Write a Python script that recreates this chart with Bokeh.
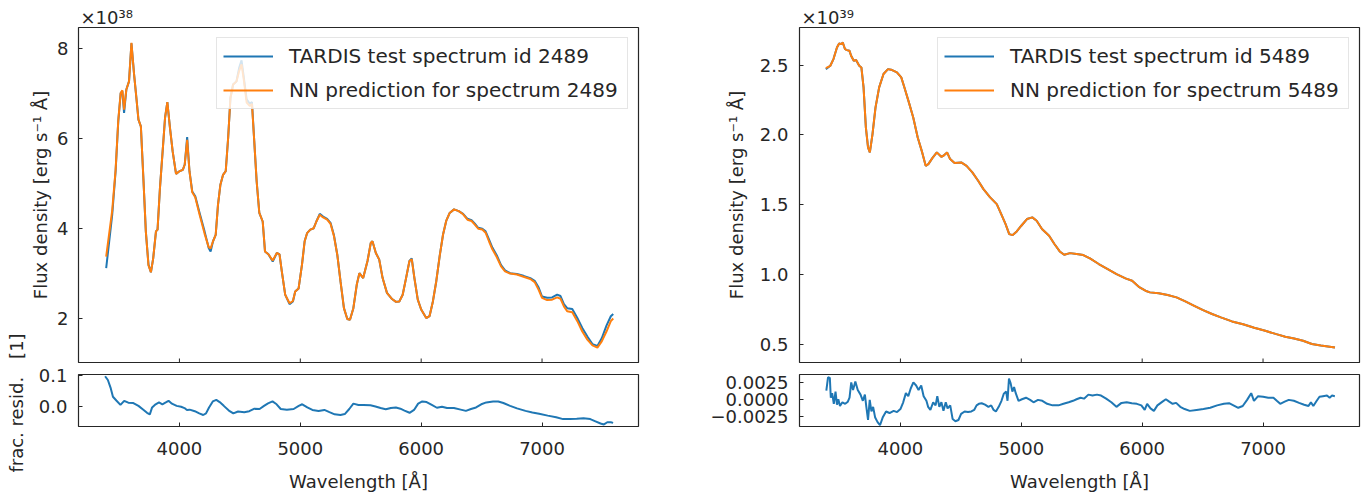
import math
from bokeh.plotting import figure
from bokeh.models import Range1d, FixedTicker, Label, Legend, LegendItem
from bokeh.layouts import row, column
from bokeh.embed import file_html
from bokeh.resources import INLINE

# ---------------- data (flux in units of the axis multiplier) ----------------
lam_L = [3394, 3444, 3472, 3494, 3514, 3528, 3542, 3561, 3583, 3603, 3625, 3644, 3661, 3681,
         3703, 3722, 3744, 3764, 3783, 3806, 3819, 3839, 3861, 3881, 3900, 3922, 3944, 3972,
         4000, 4028, 4044, 4064, 4083, 4106, 4131, 4167, 4208, 4242, 4258, 4278, 4300, 4319,
         4339, 4361, 4383, 4403, 4422, 4444, 4472, 4494, 4514, 4533, 4556, 4583, 4600, 4619,
         4639, 4661, 4689, 4708, 4736, 4772, 4806, 4828, 4847, 4875, 4911, 4939, 4958, 4986,
         5014, 5036, 5056, 5083, 5111, 5133, 5161, 5189, 5222, 5250, 5278, 5306, 5333, 5361,
         5389, 5411, 5439, 5467, 5489, 5520, 5556, 5583, 5597, 5625, 5653, 5681, 5717, 5756,
         5792, 5819, 5847, 5875, 5903, 5922, 5944, 5972, 6000, 6042, 6069, 6097, 6125, 6153,
         6181, 6208, 6236, 6272, 6311, 6347, 6383, 6417, 6444, 6472, 6506, 6533, 6561, 6589,
         6625, 6661, 6694, 6736, 6792, 6847, 6903, 6939, 6972, 7000, 7042, 7083, 7125, 7153,
         7181, 7208, 7250, 7292, 7333, 7375, 7417, 7458, 7494, 7533, 7569, 7589]
true_L = [3.11, 4.30, 5.27, 6.38, 7.01, 7.05, 6.57, 7.09, 7.27, 8.12, 7.42, 6.90, 6.42, 6.27,
          5.04, 3.93, 3.19, 3.02, 3.33, 3.93, 3.97, 4.90, 5.71, 6.46, 6.81, 6.23, 5.71, 5.21,
          5.27, 5.30, 5.42, 6.03, 5.27, 4.82, 4.71, 4.34, 3.93, 3.56, 3.48, 3.71, 3.85, 4.52,
          4.97, 5.19, 5.27, 6.01, 6.90, 7.20, 7.27, 7.57, 7.74, 7.35, 6.87, 6.77, 6.81, 5.94,
          5.04, 4.34, 4.15, 3.48, 3.42, 3.26, 3.45, 3.42, 3.04, 2.52, 2.31, 2.37, 2.59, 2.66,
          3.19, 3.71, 3.89, 3.97, 4.00, 4.15, 4.32, 4.26, 4.21, 4.12, 3.85, 3.41, 2.81, 2.22,
          1.98, 1.96, 2.22, 2.74, 3.00, 2.89, 3.27, 3.67, 3.71, 3.45, 3.30, 2.89, 2.56, 2.43,
          2.36, 2.37, 2.52, 2.89, 3.27, 3.33, 2.89, 2.41, 2.19, 2.00, 2.04, 2.37, 2.82, 3.38,
          3.86, 4.17, 4.34, 4.42, 4.38, 4.32, 4.21, 4.18, 4.10, 4.01, 3.99, 3.93, 3.75, 3.57,
          3.40, 3.18, 3.06, 3.00, 2.98, 2.94, 2.89, 2.83, 2.68, 2.48, 2.45, 2.46, 2.52, 2.49,
          2.31, 2.22, 2.20, 2.00, 1.78, 1.59, 1.42, 1.38, 1.55, 1.83, 2.04, 2.09]
pred_L = [3.37, 4.40, 5.30, 6.40, 7.01, 7.07, 6.64, 7.09, 7.27, 8.13, 7.42, 6.90, 6.42, 6.27,
          5.04, 3.93, 3.17, 3.02, 3.33, 3.93, 3.97, 4.90, 5.71, 6.46, 6.81, 6.23, 5.71, 5.21,
          5.27, 5.30, 5.42, 5.97, 5.27, 4.80, 4.69, 4.30, 3.88, 3.58, 3.55, 3.71, 3.85, 4.52,
          4.97, 5.19, 5.27, 6.01, 6.90, 7.20, 7.27, 7.50, 7.65, 7.30, 6.80, 6.72, 6.77, 5.94,
          5.04, 4.34, 4.15, 3.48, 3.42, 3.28, 3.45, 3.42, 3.04, 2.52, 2.33, 2.38, 2.59, 2.66,
          3.19, 3.71, 3.89, 3.97, 4.00, 4.15, 4.30, 4.24, 4.19, 4.10, 3.83, 3.41, 2.81, 2.22,
          1.98, 1.96, 2.22, 2.74, 3.00, 2.89, 3.27, 3.67, 3.71, 3.45, 3.30, 2.89, 2.56, 2.43,
          2.36, 2.37, 2.52, 2.89, 3.27, 3.31, 2.89, 2.41, 2.19, 2.00, 2.04, 2.37, 2.82, 3.38,
          3.86, 4.17, 4.34, 4.42, 4.38, 4.31, 4.19, 4.16, 4.08, 3.99, 3.97, 3.90, 3.71, 3.53,
          3.36, 3.15, 3.04, 2.99, 2.97, 2.92, 2.87, 2.80, 2.63, 2.45, 2.40, 2.41, 2.46, 2.43,
          2.26, 2.15, 2.13, 1.93, 1.70, 1.52, 1.39, 1.34, 1.48, 1.70, 1.93, 1.99]

rlam_L = [3385, 3408, 3430, 3450, 3478, 3512, 3543, 3577, 3619, 3661, 3704, 3732, 3755, 3774,
          3803, 3831, 3859, 3887, 3910, 3938, 3977, 4014, 4042, 4062, 4085, 4127, 4164, 4197,
          4220, 4245, 4276, 4305, 4333, 4367, 4409, 4446, 4485, 4536, 4578, 4621, 4663, 4700,
          4733, 4770, 4804, 4838, 4889, 4945, 4987, 5016, 5058, 5100, 5151, 5199, 5241, 5284,
          5332, 5368, 5405, 5439, 5481, 5523, 5580, 5622, 5664, 5707, 5749, 5791, 5828, 5862,
          5904, 5941, 5975, 6009, 6045, 6088, 6130, 6172, 6214, 6271, 6327, 6370, 6412, 6454,
          6497, 6539, 6595, 6638, 6680, 6736, 6793, 6863, 6920, 6976, 7047, 7117, 7174, 7230,
          7287, 7343, 7399, 7442, 7484, 7512, 7540, 7569, 7588]
resid_L = [0.097, 0.085, 0.061, 0.032, 0.020, 0.006, 0.019, 0.013, 0.012, 0.003, -0.010, -0.019,
           -0.024, -0.002, 0.008, 0.014, 0.008, 0.014, 0.019, 0.010, 0.003, 0.000, -0.004, -0.010,
           -0.009, -0.014, -0.021, -0.026, -0.021, -0.002, 0.017, 0.022, 0.015, 0.003, -0.012,
           -0.021, -0.015, -0.017, -0.014, -0.006, -0.007, 0.003, 0.011, 0.017, 0.008, -0.007,
           -0.009, -0.007, 0.003, 0.008, -0.002, -0.010, -0.013, -0.010, -0.017, -0.024, -0.026,
           -0.023, -0.007, 0.010, 0.006, 0.006, 0.005, 0.001, -0.004, -0.008, -0.004, -0.002,
           -0.006, -0.012, -0.019, -0.010, 0.010, 0.017, 0.015, 0.006, -0.003, 0.000, -0.004,
           -0.004, -0.009, -0.013, -0.007, -0.002, 0.008, 0.014, 0.017, 0.017, 0.012, 0.003,
           -0.005, -0.013, -0.018, -0.022, -0.028, -0.033, -0.039, -0.039, -0.038, -0.036,
           -0.039, -0.046, -0.053, -0.056, -0.049, -0.049, -0.051]

lam_R = [3383, 3420, 3446, 3475, 3493, 3512, 3523, 3541, 3556, 3578, 3592, 3614, 3633, 3659,
         3677, 3695, 3714, 3732, 3747, 3769, 3794, 3824, 3860, 3897, 3923, 3971, 4007, 4033,
         4070, 4106, 4143, 4180, 4209, 4231, 4264, 4301, 4338, 4356, 4386, 4411, 4448, 4503,
         4547, 4595, 4643, 4687, 4742, 4797, 4834, 4870, 4900, 4929, 4962, 5000, 5047, 5091,
         5127, 5171, 5230, 5274, 5318, 5355, 5403, 5458, 5513, 5568, 5641, 5715, 5788, 5862,
         5917, 5972, 6027, 6064, 6137, 6211, 6284, 6357, 6431, 6504, 6578, 6651, 6743, 6835,
         6927, 7018, 7110, 7184, 7257, 7331, 7404, 7478, 7595]
true_R = [2.470, 2.495, 2.543, 2.626, 2.655, 2.650, 2.662, 2.615, 2.607, 2.603, 2.567, 2.531,
          2.536, 2.495, 2.483, 2.340, 2.054, 1.911, 1.875, 2.006, 2.197, 2.340, 2.436, 2.471,
          2.467, 2.448, 2.412, 2.340, 2.233, 2.125, 1.982, 1.875, 1.779, 1.791, 1.834, 1.875,
          1.844, 1.851, 1.875, 1.827, 1.799, 1.803, 1.779, 1.732, 1.672, 1.612, 1.553, 1.505,
          1.433, 1.362, 1.290, 1.283, 1.309, 1.350, 1.398, 1.410, 1.386, 1.326, 1.278, 1.219,
          1.166, 1.142, 1.154, 1.147, 1.140, 1.116, 1.076, 1.040, 1.004, 0.973, 0.956, 0.913,
          0.885, 0.873, 0.866, 0.854, 0.837, 0.808, 0.777, 0.746, 0.718, 0.694, 0.665, 0.645,
          0.620, 0.598, 0.574, 0.555, 0.543, 0.527, 0.503, 0.493, 0.479]
pred_R = [2.478, 2.495, 2.543, 2.626, 2.655, 2.650, 2.662, 2.615, 2.607, 2.603, 2.567, 2.531,
          2.536, 2.495, 2.483, 2.340, 2.054, 1.911, 1.875, 2.006, 2.197, 2.340, 2.436, 2.471,
          2.467, 2.448, 2.412, 2.340, 2.233, 2.125, 1.982, 1.875, 1.779, 1.791, 1.834, 1.875,
          1.844, 1.851, 1.875, 1.827, 1.799, 1.803, 1.779, 1.732, 1.672, 1.612, 1.553, 1.505,
          1.433, 1.362, 1.290, 1.283, 1.309, 1.350, 1.398, 1.410, 1.386, 1.326, 1.278, 1.219,
          1.166, 1.142, 1.154, 1.147, 1.140, 1.116, 1.076, 1.040, 1.004, 0.973, 0.956, 0.913,
          0.885, 0.873, 0.866, 0.854, 0.837, 0.808, 0.777, 0.746, 0.718, 0.694, 0.665, 0.645,
          0.620, 0.598, 0.574, 0.555, 0.543, 0.527, 0.503, 0.493, 0.479]

rlam_R = [3387, 3401, 3416, 3424, 3435, 3449, 3463, 3475, 3486, 3500, 3520, 3543, 3565, 3579,
          3593, 3608, 3627, 3647, 3670, 3689, 3706, 3718, 3732, 3746, 3760, 3774, 3791, 3811,
          3831, 3853, 3881, 3910, 3944, 3972, 4000, 4023, 4045, 4065, 4085, 4107, 4130, 4150,
          4172, 4192, 4215, 4229, 4248, 4271, 4291, 4305, 4322, 4339, 4356, 4375, 4390, 4412,
          4432, 4455, 4480, 4502, 4531, 4559, 4587, 4610, 4630, 4649, 4672, 4700, 4728, 4751,
          4771, 4790, 4813, 4836, 4855, 4875, 4886, 4898, 4912, 4926, 4940, 4954, 4977, 5005,
          5039, 5073, 5101, 5138, 5174, 5214, 5259, 5307, 5349, 5392, 5428, 5457, 5490, 5519,
          5555, 5589, 5626, 5660, 5702, 5745, 5787, 5829, 5872, 5914, 5956, 5993, 6021, 6041,
          6069, 6097, 6126, 6168, 6196, 6224, 6252, 6281, 6315, 6351, 6394, 6450, 6507, 6563,
          6620, 6676, 6719, 6755, 6795, 6832, 6868, 6902, 6925, 6959, 7001, 7043, 7086, 7114,
          7142, 7179, 7213, 7255, 7298, 7340, 7376, 7396, 7416, 7444, 7467, 7495, 7529, 7551,
          7571, 7594]
resid_R = [0.00128, 0.00328, 0.00319, 0.00023, 0.00091, -0.00068, 0.00114, -0.00081, 0.0,
           -0.00100, -0.00045, -0.00068, -0.00036, 0.00023, 0.00251, 0.00137, 0.00264, 0.00137,
           0.00069, -0.00023, 0.00069, -0.00113, -0.00309, -0.00009, -0.00182, -0.00113,
           -0.00273, -0.00341, -0.00387, -0.00273, -0.00182, -0.00205, -0.00173, -0.00191,
           -0.00146, -0.00045, 0.00091, 0.00046, 0.00160, 0.00251, 0.00205, 0.00137, 0.00205,
           0.00046, -0.00023, -0.00113, -0.00159, -0.00045, -0.00091, 0.00046, -0.00113,
           -0.00045, -0.00173, -0.00045, -0.00136, -0.00091, -0.00295, -0.00327, -0.00309,
           -0.00218, -0.00182, -0.00191, -0.00182, -0.00159, -0.00091, -0.00068, -0.00059,
           -0.00081, -0.00113, -0.00091, -0.00159, -0.00182, -0.00113, -0.00023, 0.00082,
           0.00114, -0.00023, 0.00310, 0.00237, 0.00114, 0.00182, 0.00091, -0.00023, 0.0,
           0.00023, -0.00009, -0.00045, -0.00009, -0.00023, -0.00068, -0.00091, -0.00091,
           -0.00068, -0.00045, -0.00023, 0.0, 0.00023, 0.00009, 0.00069, 0.00055, 0.00069,
           0.00055, 0.00009, -0.00045, -0.00113, -0.00054, -0.00045, -0.00059, -0.00068,
           -0.00091, -0.00159, -0.00068, -0.00136, -0.00173, -0.00091, -0.00036, 0.0, -0.00036,
           -0.00068, -0.00054, -0.00113, -0.00146, -0.00173, -0.00159, -0.00146, -0.00127,
           -0.00091, -0.00068, -0.00059, -0.00091, -0.00127, -0.00100, -0.00009, 0.00091,
           -0.00023, 0.00046, 0.00037, 0.00023, 0.00023, -0.00023, -0.00068, -0.00036, -0.00009,
           -0.00023, -0.00054, -0.00081, -0.00100, -0.00045, -0.00100, -0.00023, 0.00037,
           0.00046, 0.00055, 0.00023, 0.00055, 0.00046]

x_ticks = [4000, 5000, 6000, 7000]
yticks_L = [2, 4, 6, 8]
yticks_R = [0.5, 1.0, 1.5, 2.0, 2.5]
rticks_L = [0.0, 0.1]
rticks_R = [-0.0025, 0.0, 0.0025]
rlabels_R = {-0.0025: "\u22120.0025", 0.0: "0.0000", 0.0025: "0.0025"}
legend_L = ["TARDIS test spectrum id 2489", "NN prediction for spectrum 2489"]
legend_R = ["TARDIS test spectrum id 5489", "NN prediction for spectrum 5489"]
mult_L = "\u00d710\u00b3\u2078"
mult_R = "\u00d710\u00b3\u2079"
ylabel_main = "Flux density [erg s\u207b\u00b9 \u00c5]"
ylabel_resid = "frac. resid.\u2003[1]"
xlabel = "Wavelength [\u00c5]"

# ---------------- styling ----------------
FONT = "DejaVu Sans"
BLUE = "#1f77b4"
ORANGE = "#ff7f0e"
INK = "#262626"
XR = (3165, 7798)
FW, FH_MAIN, FH_RES = 560, 335, 57
TOP_B, MAIN_BOT, RES_TOP, BOT_B = 27, 1, 11, 63
LAB_W = 26


def style(p):
    p.outline_line_color = INK
    p.outline_line_width = 1.2
    p.xgrid.visible = False
    p.ygrid.visible = False
    for ax in p.xaxis + p.yaxis:
        ax.axis_line_color = None
        ax.major_tick_in = 4
        ax.major_tick_out = 0
        ax.major_tick_line_color = INK
        ax.major_tick_line_width = 1
        ax.minor_tick_line_color = None
        ax.major_label_text_font = FONT
        ax.major_label_text_font_size = "18px"
        ax.major_label_text_color = INK
        ax.axis_label_text_font = FONT
        ax.axis_label_text_font_size = "18px"
        ax.axis_label_text_font_style = "normal"
        ax.axis_label_text_color = INK
        ax.major_label_standoff = 11


def main_fig(lam, yt, yp, yr, yticks, ylabels, mult, legend_labels, left_b, right_b, lab_so):
    p = figure(width=left_b + FW + right_b, height=TOP_B + FH_MAIN + MAIN_BOT,
               x_range=Range1d(*XR), y_range=Range1d(*yr),
               output_backend="svg", toolbar_location=None,
               min_border_left=left_b, min_border_right=right_b,
               min_border_top=TOP_B, min_border_bottom=MAIN_BOT)
    style(p)
    p.xaxis.visible = False
    p.yaxis.ticker = FixedTicker(ticks=yticks)
    p.yaxis.major_label_overrides = ylabels
    p.yaxis.axis_label = ylabel_main
    p.yaxis.axis_label_standoff = lab_so
    # inward x ticks on the bottom spine (the shared-x main panel shows no tick labels)
    dy = 4.0 * (yr[1] - yr[0]) / FH_MAIN
    p.segment(x0=x_ticks, x1=x_ticks, y0=[yr[0]] * len(x_ticks), y1=[yr[0] + dy] * len(x_ticks),
              line_color=INK, line_width=1)
    r1 = p.line(lam, yt, line_color=BLUE, line_width=2)
    r2 = p.line(lam, yp, line_color=ORANGE, line_width=2)
    leg = Legend(items=[LegendItem(label=legend_labels[0], renderers=[r1]),
                        LegendItem(label=legend_labels[1], renderers=[r2])],
                 location="top_right")
    leg.label_text_font = FONT
    leg.label_text_font_size = "20px"
    leg.label_text_color = INK
    leg.glyph_width = 50
    leg.glyph_height = 24
    leg.label_height = 24
    leg.label_width = 332
    leg.label_standoff = 16
    leg.spacing = 10
    leg.padding = 6
    leg.margin = 10
    leg.border_line_color = "#cccccc"
    leg.border_line_width = 1
    leg.background_fill_alpha = 0.8
    p.add_layout(leg)
    p.title.text = mult
    p.title.text_font = FONT
    p.title.text_font_size = "18px"
    p.title.text_font_style = "normal"
    p.title.text_color = INK
    p.title.align = "left"
    p.title.offset = 2
    p.title.standoff = 0
    return p


def resid_fig(lam, r, yr, yticks, ylabels, left_b, right_b):
    p = figure(width=left_b + FW + right_b, height=RES_TOP + FH_RES + BOT_B,
               x_range=Range1d(*XR), y_range=Range1d(*yr),
               output_backend="svg", toolbar_location=None,
               min_border_left=left_b, min_border_right=right_b,
               min_border_top=RES_TOP, min_border_bottom=BOT_B)
    style(p)
    p.xaxis.ticker = FixedTicker(ticks=x_ticks)
    p.xaxis.axis_label = xlabel
    p.xaxis.major_label_standoff = 15
    p.xaxis.axis_label_standoff = 13
    p.yaxis.ticker = FixedTicker(ticks=yticks)
    p.yaxis.major_label_overrides = ylabels
    p.line(lam, r, line_color=BLUE, line_width=2)
    return p


LEFT_B = 78 - LAB_W
mainL = main_fig(lam_L, true_L, pred_L, (1.01, 8.47), yticks_L, {t: str(t) for t in yticks_L},
                 mult_L, legend_L, LEFT_B, 12, 3)
mainL.yaxis.major_label_standoff = 10
resL = resid_fig(rlam_L, resid_L, (-0.0625, 0.1025), rticks_L, {0.0: "0.0", 0.1: "0.1"},
                 LEFT_B, 12)

mainR = main_fig(lam_R, true_R, pred_R, (0.371, 2.769), yticks_R,
                 {t: f"{t:.1f}" for t in yticks_R}, mult_R, legend_R, 149, 2, 10)
resR = resid_fig(rlam_R, resid_R, (-0.00406, 0.00369), rticks_R, rlabels_R, 149, 2)

H_TOTAL = (TOP_B + FH_MAIN + MAIN_BOT) + (RES_TOP + FH_RES + BOT_B)
lab = figure(width=LAB_W, height=H_TOTAL, output_backend="svg", toolbar_location=None,
             x_range=Range1d(0, 1), y_range=Range1d(0, 1), min_border=0,
             x_axis_location=None, y_axis_location=None)
lab.outline_line_color = None
lab.xgrid.visible = False
lab.ygrid.visible = False
lab.add_layout(Label(x=15.5, y=H_TOTAL - 402.5, x_units="screen", y_units="screen",
                     text=ylabel_resid, angle=math.pi / 2, text_font=FONT,
                     text_font_size="18px", text_color=INK,
                     text_align="center", text_baseline="middle"))

layout = row(lab, column(mainL, resL), column(mainR, resR))
open("out.html", "w").write(file_html(layout, INLINE))
